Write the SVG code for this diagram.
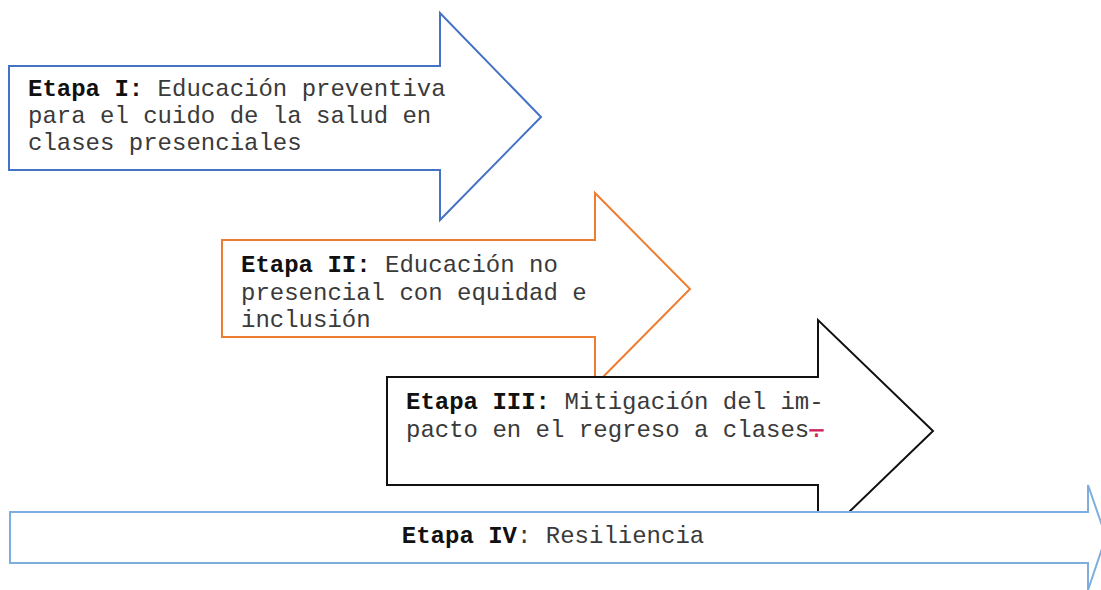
<svg xmlns="http://www.w3.org/2000/svg" width="1101" height="590" viewBox="0 0 1101 590">
<style>
.arr{fill:#fff;stroke-width:2;stroke-linejoin:miter}
.t{font-family:"Liberation Mono","Courier New",monospace;font-size:24px;fill:#3a3a3a}
.b{font-weight:bold;fill:#111}
</style>
<rect width="1101" height="590" fill="#fff"/>
<g id="etapa1">
<polygon class="arr" stroke="#4472C4" points="9,66 440,66 440,13 541,117 440,220 440,170 9,170"/>
<text class="t" x="28" y="96"><tspan class="b">Etapa I:</tspan> Educación preventiva</text>
<text class="t" x="28" y="123">para el cuido de la salud en</text>
<text class="t" x="28" y="150">clases presenciales</text>
</g>
<g id="etapa2">
<polygon class="arr" stroke="#ED7D31" points="222,240 595,240 595,193 690,289 595,385 595,337 222,337"/>
<text class="t" x="241" y="272"><tspan class="b">Etapa II:</tspan> Educación no</text>
<text class="t" x="241" y="300">presencial con equidad e</text>
<text class="t" x="241" y="327">inclusión</text>
</g>
<g id="etapa3">
<polygon class="arr" stroke="#111" points="387,377 818,377 818,320 933,431 818,542 818,485 387,485"/>
<text class="t" x="406" y="409"><tspan class="b">Etapa III:</tspan> Mitigación del im-</text>
<text class="t" x="406" y="437">pacto en el regreso a clases<tspan fill="#d0205a" text-decoration="line-through">.</tspan></text>
</g>
<g id="etapa4">
<polygon class="arr" stroke="#7EAEDD" stroke-width="2.5" points="10,512 1088,512 1088,485 1106,537 1088,590 1088,563 10,563"/>
<text class="t" x="553" y="543" text-anchor="middle"><tspan class="b">Etapa IV</tspan>: Resiliencia</text>
</g>
<g id="connectors"></g>
</svg>
